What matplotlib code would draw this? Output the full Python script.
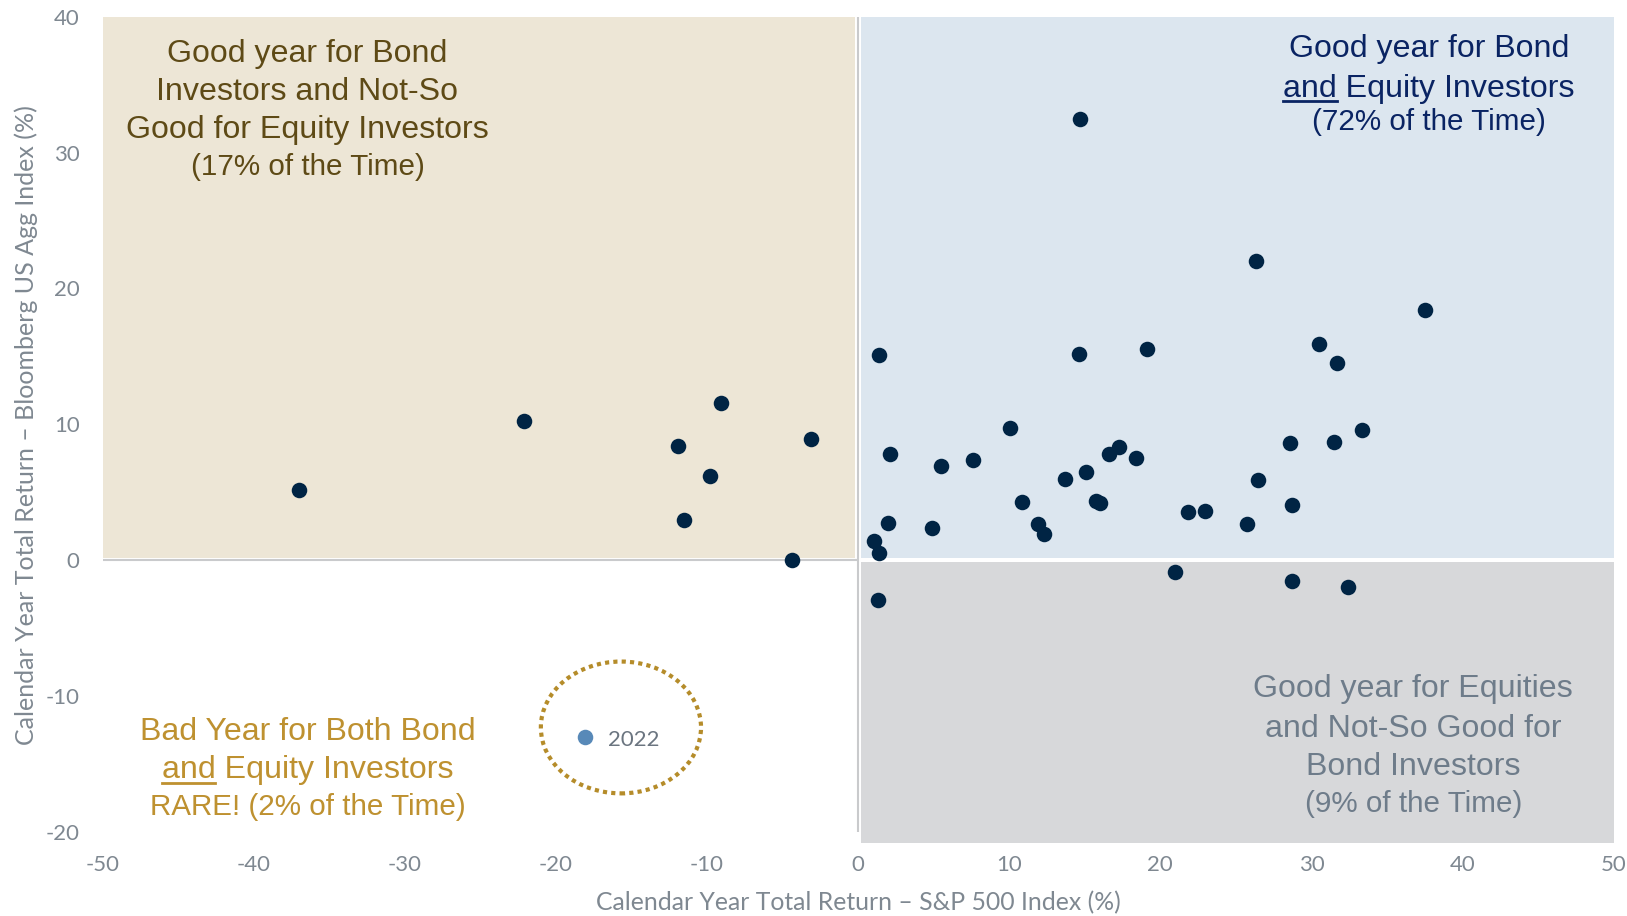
import matplotlib
matplotlib.use("Agg")
import matplotlib.pyplot as plt
from matplotlib.patches import Rectangle, Ellipse
from matplotlib.lines import Line2D

# calendar-year total returns (%)
sp500 = [-37.0, -22.1, -9.1, -11.9, -3.1, -9.8, -11.5, -4.4,
         14.7, 26.35, 37.5, 1.4, 14.6, 19.1, 30.5, 31.7, 10.05, 33.35,
         2.1, 5.5, 7.6, 13.7, 15.1, 16.6, 17.25, 18.4, 28.6, 31.5,
         26.45, 28.7, 10.85, 15.75, 16.0, 11.9, 12.3, 4.9, 2.0, 1.05,
         1.4, 21.8, 22.95, 25.75,
         21.0, 28.7, 32.4, 1.3]
agg = [5.2, 10.25, 11.6, 8.4, 8.95, 6.2, 3.0, 0.0,
       32.5, 22.05, 18.4, 15.1, 15.2, 15.55, 15.95, 14.5, 9.7, 9.6,
       7.8, 6.95, 7.4, 5.95, 6.5, 7.85, 8.35, 7.5, 8.65, 8.7,
       5.9, 4.1, 4.3, 4.35, 4.2, 2.65, 1.9, 2.4, 2.75, 1.4,
       0.55, 3.55, 3.65, 2.7,
       -0.85, -1.55, -2.0, -2.9]

hl_year = "2022"
hl_sp500 = -18.1
hl_agg = -13.0

x_ticks = [-50, -40, -30, -20, -10, 0, 10, 20, 30, 40, 50]
y_ticks = [-20, -10, 0, 10, 20, 30, 40]

W, H = 1627, 916
plt.rcParams["font.family"] = ["Lato", "DejaVu Sans"]
plt.rcParams["axes.unicode_minus"] = False

fig = plt.figure(figsize=(W / 100, H / 100), dpi=100)
ax = fig.add_axes([0.0631, 0.0797, 0.9287, 0.9021])
ax.set_xlim(-50, 50)
ax.set_ylim(-20.8, 40)

# quadrant backgrounds
gap = 0.2
ax.add_patch(Rectangle((-50, gap * 0.75), 50 - gap, 40 - gap * 0.75,
                       fc="#EDE6D6", ec="none", zorder=1))
ax.add_patch(Rectangle((gap, gap * 0.75), 50 - gap, 40 - gap * 0.75,
                       fc="#DCE6EF", ec="none", zorder=1))
ax.add_patch(Rectangle((gap, -20.8), 50 - gap, 20.8 - gap * 0.75,
                       fc="#D7D8DA", ec="none", zorder=1))
ax.hlines(0, -50, 0, color="#C9CACC", lw=1.5, zorder=0.5)
ax.vlines(0, -20, 40, color="#C9CACC", lw=1.5, zorder=0.5)

ax.scatter(sp500, agg, s=125, color="#002444", linewidths=0, zorder=3)
ax.scatter([hl_sp500], [hl_agg], s=125, color="#5889B8", linewidths=0, zorder=3)
ax.annotate(hl_year, xy=(hl_sp500, hl_agg), xytext=(23, -9.5),
            textcoords="offset pixels", va="baseline", ha="left",
            fontsize=16, color="#6B7580")
ax.add_patch(Ellipse((-15.7, -12.3), 10.6, 9.7, fill=False, ec="#B58C2A",
                     lw=3, ls=(0, (1, 1)), zorder=2))

ax.set_xticks(x_ticks)
ax.set_yticks(y_ticks)
ax.tick_params(length=0, labelsize=16, labelcolor="#7F8891")
ax.tick_params(axis="x", pad=9)
ax.tick_params(axis="y", pad=16.5)
for s in ax.spines.values():
    s.set_visible(False)

ax.set_xlabel("Calendar Year Total Return \u2013 S&P 500 Index (%)",
              fontsize=17.8, color="#7F8891", va="center")
ax.xaxis.set_label_coords(0.5, (843 - 903) / 826.3)
ax.set_ylabel("Calendar Year Total Return \u2013 Bloomberg US Agg Index (%)",
              fontsize=18, color="#7F8891", va="center")
ax.yaxis.set_label_coords((26 - 102.7) / 1511, (843 - 425) / 826.3)

# quadrant notes: (text, size, baseline from top in px, underlined prefix)
big, small = 23.1, 21.3
notes = [
    (307.5, "#5E4A16", [("Good year for Bond", big, 61.7, None),
                        ("Investors and Not-So", big, 100, None),
                        ("Good for Equity Investors", big, 138.3, None),
                        ("(17% of the Time)", small, 175, None)]),
    (1428.7, "#0A2463", [("Good year for Bond", big, 57.3, None),
                         ("and Equity Investors", big, 96.7, "and"),
                         ("(72% of the Time)", small, 130, None)]),
    (1413.3, "#6E7C8A", [("Good year for Equities", big, 696.7, None),
                         ("and Not-So Good for", big, 736.7, None),
                         ("Bond Investors", big, 775, None),
                         ("(9% of the Time)", small, 812.5, None)]),
    (307.5, "#BE9130", [("Bad Year for Both Bond", big, 740, None),
                        ("and Equity Investors", big, 778.3, "and"),
                        ("RARE! (2% of the Time)", small, 815, None)]),
]

renderer = fig.canvas.get_renderer()
for cx, color, lines in notes:
    for text, size, base, under in lines:
        t = fig.text(cx / W, 1 - base / H, text, ha="center", va="baseline",
                     fontsize=size, color=color, family="Liberation Sans")
        if under:
            bb = t.get_window_extent(renderer)
            tmp = fig.text(0, 0, under, fontsize=size, family="Liberation Sans")
            w = tmp.get_window_extent(renderer).width
            tmp.remove()
            uy = (H - base - 4.5) / H
            fig.add_artist(Line2D([bb.x0 / W, (bb.x0 + w) / W], [uy, uy],
                                  transform=fig.transFigure, color=color, lw=2))

fig.savefig("out.png", dpi=100)
